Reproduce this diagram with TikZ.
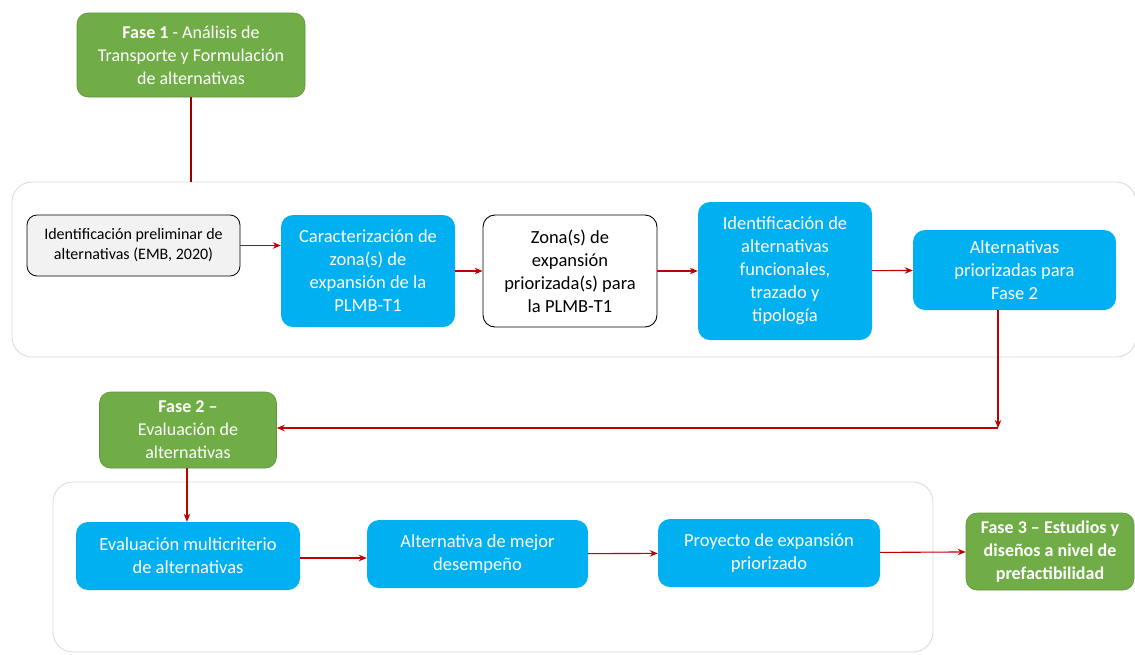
\documentclass[tikz,border=0pt]{standalone}
\usepackage{fontspec}
\setmainfont{Carlito}
\usetikzlibrary{calc,arrows.meta}
\definecolor{fasegreen}{HTML}{70AD47}
\definecolor{pasoblue}{HTML}{00B0F0}
\definecolor{flechared}{HTML}{C00000}
\definecolor{framegray}{HTML}{D9D9D9}
\tikzset{
	fase/.style={rectangle,rounded corners=11pt,fill=fasegreen,draw=fasegreen!85!black,line width=0.6pt,text=white,align=center,inner sep=2pt,font=\fontsize{18}{23}\selectfont},
	paso/.style={rectangle,rounded corners=12pt,fill=pasoblue,text=white,align=center,inner sep=2pt,font=\fontsize{18.5}{23}\selectfont},
	pasoblanco/.style={paso,fill=white,draw=black,line width=0.9pt,text=black},
	marco/.style={rectangle,rounded corners=20pt,draw=framegray,line width=0.8pt,fill=white},
	flecha/.style={flechared,line width=1.1pt,-{Stealth[length=8pt,width=6.5pt]}},
}
\begin{document}
\begin{tikzpicture}[x=1pt,y=-1pt]
	\useasboundingbox (0,0) rectangle (1135,654);
	%FRAMES
	\node[marco,minimum width=1124pt,minimum height=175pt] (etapa1) at (574,269.5) {};
	\node[marco,minimum width=880pt,minimum height=170pt]  (etapa2) at (493,567)   {};
	
	%PHASES
	\node[fase,minimum width=228pt,minimum height=84pt] (fase1) at (191,55)
		{\textbf{Fase 1} - Análisis de\\Transporte y Formulación\\de alternativas};
	\node[fase,minimum width=177pt,minimum height=76pt] (fase2) at (188,430)
		{\textbf{Fase 2 –}\\Evaluación de\\alternativas};
	\node[fase,minimum width=168pt,minimum height=77pt] (fase3) at (1050,551.5)
		{\textbf{Fase 3 – Estudios y}\\\textbf{diseños a nivel de}\\\textbf{prefactibilidad}};
	
	%STEPS - row 1
	\node[pasoblanco,fill=black!5,line width=0.8pt,rounded corners=10pt,font=\fontsize{16}{20}\selectfont,
		minimum width=213pt,minimum height=61pt] (prelim) at (133.5,245.5)
		{Identificación preliminar de\\alternativas (EMB, 2020)};
	\node[paso,minimum width=174pt,minimum height=112pt] (caract) at (368,271)
		{Caracterización de\\zona(s) de\\expansión de la\\PLMB-T1};
	\node[pasoblanco,minimum width=174pt,minimum height=112pt] (zonas) at (570,271)
		{Zona(s) de\\expansión\\priorizada(s) para\\la PLMB-T1};
	\node[paso,minimum width=174pt,minimum height=138pt] (ident) at (785,271)
		{Identificación de\\alternativas\\funcionales,\\trazado y\\tipología};
	\node[paso,minimum width=203pt,minimum height=80pt] (altpri) at (1014.5,270)
		{Alternativas\\priorizadas para\\Fase 2};
	
	%STEPS - row 2
	\node[paso,minimum width=224pt,minimum height=68pt] (evalmc) at (188,556)
		{Evaluación multicriterio\\de alternativas};
	\node[paso,minimum width=221pt,minimum height=68pt] (mejor) at (477.5,554)
		{Alternativa de mejor\\desempeño};
	\node[paso,minimum width=222pt,minimum height=68pt] (proyecto) at (769,553)
		{Proyecto de expansión\\priorizado};
	
	\coordinate (esquina) at (998,428);
	
	%ARROWS
	\draw[flechared!80!black,line width=1.1pt] (fase1) -- (fase1 |- etapa1.north);
	\draw[flecha] (prelim.east) -- (prelim.east -| caract.west);
	\draw[flecha] (caract) -- (zonas);
	\draw[flecha] (zonas) -- (ident);
	\draw[flecha] (ident) -- (altpri);
	\draw[flecha] (altpri.south -| esquina) -- (esquina);
	\draw[flecha] (esquina) -- (esquina -| fase2.east);
	\draw[flecha] (fase2.south -| 187,0) -- (evalmc.north -| 187,0);
	\draw[flecha,line width=2.4pt] (evalmc.east |- 0,558) -- (mejor.west |- 0,558);
	\draw[flecha] (mejor) -- (proyecto);
	\draw[flecha] (proyecto) -- (fase3);
\end{tikzpicture}
\end{document}
